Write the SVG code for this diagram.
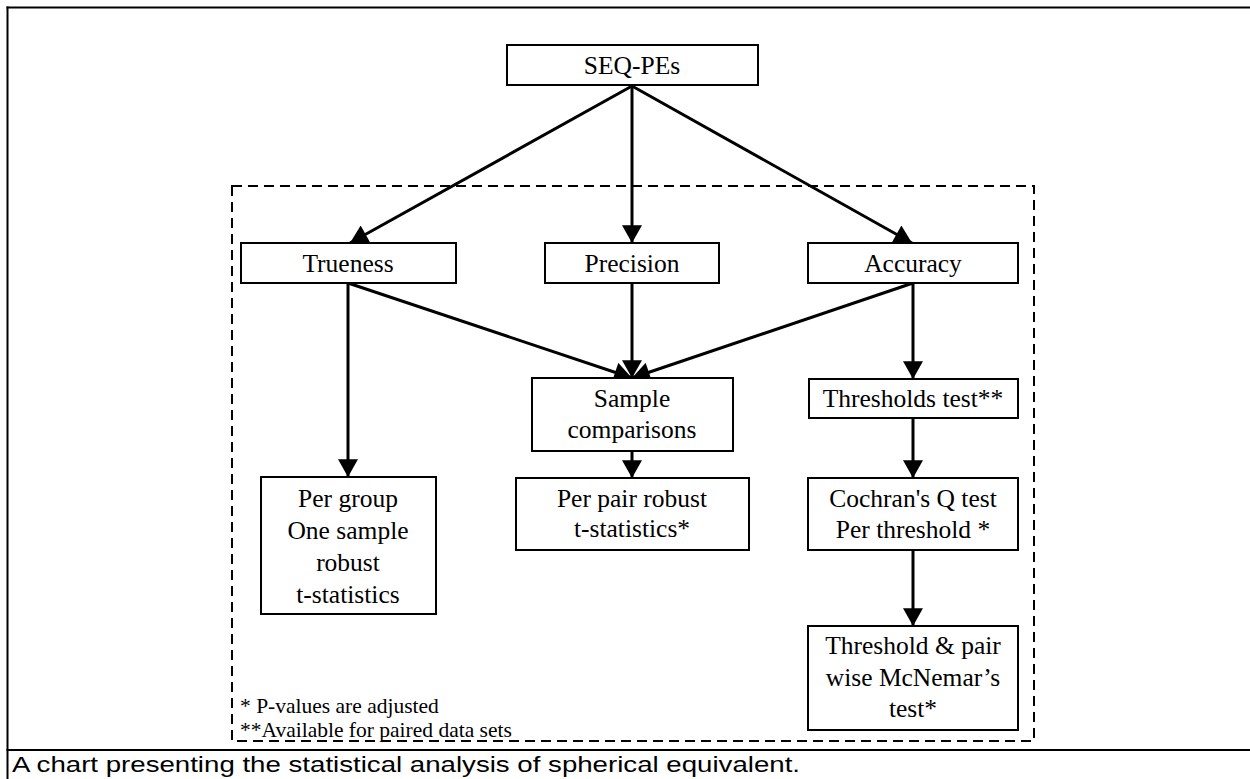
<svg xmlns="http://www.w3.org/2000/svg" width="1250" height="779" viewBox="0 0 1250 779">
<defs>
<style>
.box{fill:#fff;stroke:#000;stroke-width:2}
.t{font-family:"Liberation Serif","Times New Roman",serif;font-size:25.5px;fill:#000;text-anchor:middle}
.lg{font-family:"Liberation Serif","Times New Roman",serif;font-size:21.5px;fill:#000}
.cn{stroke:#000;stroke-width:3;fill:none;marker-end:url(#ah)}
.fr{stroke:#000;stroke-width:2;fill:none}
</style>
<marker id="ah" markerUnits="userSpaceOnUse" markerWidth="20" markerHeight="20" viewBox="0 0 16 18" refX="16" refY="9" orient="auto">
<path d="M0,0 L16,9 L0,18 Z" fill="#000"/>
</marker>
</defs>
<rect width="1250" height="779" fill="#fff"/>
<g id="frame">
<line class="fr" x1="6.5" y1="7.5" x2="1250" y2="7.5"/>
<line class="fr" x1="7.5" y1="6.5" x2="7.5" y2="779"/>
<line class="fr" x1="6.5" y1="750" x2="1250" y2="750"/>
</g>
<rect id="dashed-region" x="232" y="186" width="802" height="555" fill="none" stroke="#000" stroke-width="2" stroke-dasharray="10 6"/>
<g id="connectors">
<line class="cn" x1="632" y1="86" x2="350" y2="243"/>
<line class="cn" x1="632" y1="86" x2="632" y2="243"/>
<line class="cn" x1="632" y1="86" x2="912" y2="243"/>
<line class="cn" x1="348" y1="283" x2="632" y2="378"/>
<line class="cn" x1="632" y1="283" x2="632" y2="378"/>
<line class="cn" x1="913" y1="283" x2="632" y2="378"/>
<line class="cn" x1="348" y1="283" x2="348" y2="477"/>
<line class="cn" x1="632" y1="451" x2="632" y2="478"/>
<line class="cn" x1="913" y1="283" x2="913" y2="379"/>
<line class="cn" x1="913" y1="418" x2="913" y2="478"/>
<line class="cn" x1="913" y1="550" x2="913" y2="626"/>
</g>
<g id="seq-pes">
<rect class="box" x="507" y="45" width="251" height="40"/>
<text class="t" x="632" y="74">SEQ-PEs</text>
</g>
<g id="trueness">
<rect class="box" x="241" y="243" width="215" height="40"/>
<text class="t" x="348" y="272">Trueness</text>
</g>
<g id="precision">
<rect class="box" x="545" y="243" width="174" height="40"/>
<text class="t" x="632" y="272">Precision</text>
</g>
<g id="accuracy">
<rect class="box" x="808" y="243" width="210" height="40"/>
<text class="t" x="913" y="272">Accuracy</text>
</g>
<g id="sample-comparisons">
<rect class="box" x="532" y="378" width="201" height="73"/>
<text class="t" x="632" y="407">Sample</text>
<text class="t" x="632" y="438">comparisons</text>
</g>
<g id="thresholds-test">
<rect class="box" x="809" y="379" width="209" height="39"/>
<text class="t" x="913" y="407">Thresholds test**</text>
</g>
<g id="per-group">
<rect class="box" x="261" y="477" width="175" height="137"/>
<text class="t" x="348" y="507">Per group</text>
<text class="t" x="348" y="539">One sample</text>
<text class="t" x="348" y="571">robust</text>
<text class="t" x="348" y="603">t-statistics</text>
</g>
<g id="per-pair">
<rect class="box" x="516" y="478" width="233" height="72"/>
<text class="t" x="632" y="507">Per pair robust</text>
<text class="t" x="632" y="537">t-statistics*</text>
</g>
<g id="cochran">
<rect class="box" x="808" y="478" width="210" height="72"/>
<text class="t" x="913" y="507">Cochran's Q test</text>
<text class="t" x="913" y="538">Per threshold *</text>
</g>
<g id="mcnemar">
<rect class="box" x="808" y="626" width="210" height="104"/>
<text class="t" x="913" y="654">Threshold &amp; pair</text>
<text class="t" x="913" y="686">wise McNemar’s</text>
<text class="t" x="913" y="717">test*</text>
</g>
<g id="legend">
<text class="lg" x="240" y="713">* P-values are adjusted</text>
<text class="lg" x="240" y="737">**Available for paired data sets</text>
</g>
<text id="caption" x="12" y="772" font-family="Liberation Sans, Arial, sans-serif" font-size="22" textLength="788" lengthAdjust="spacingAndGlyphs">A chart presenting the statistical analysis of spherical equivalent.</text>
</svg>
